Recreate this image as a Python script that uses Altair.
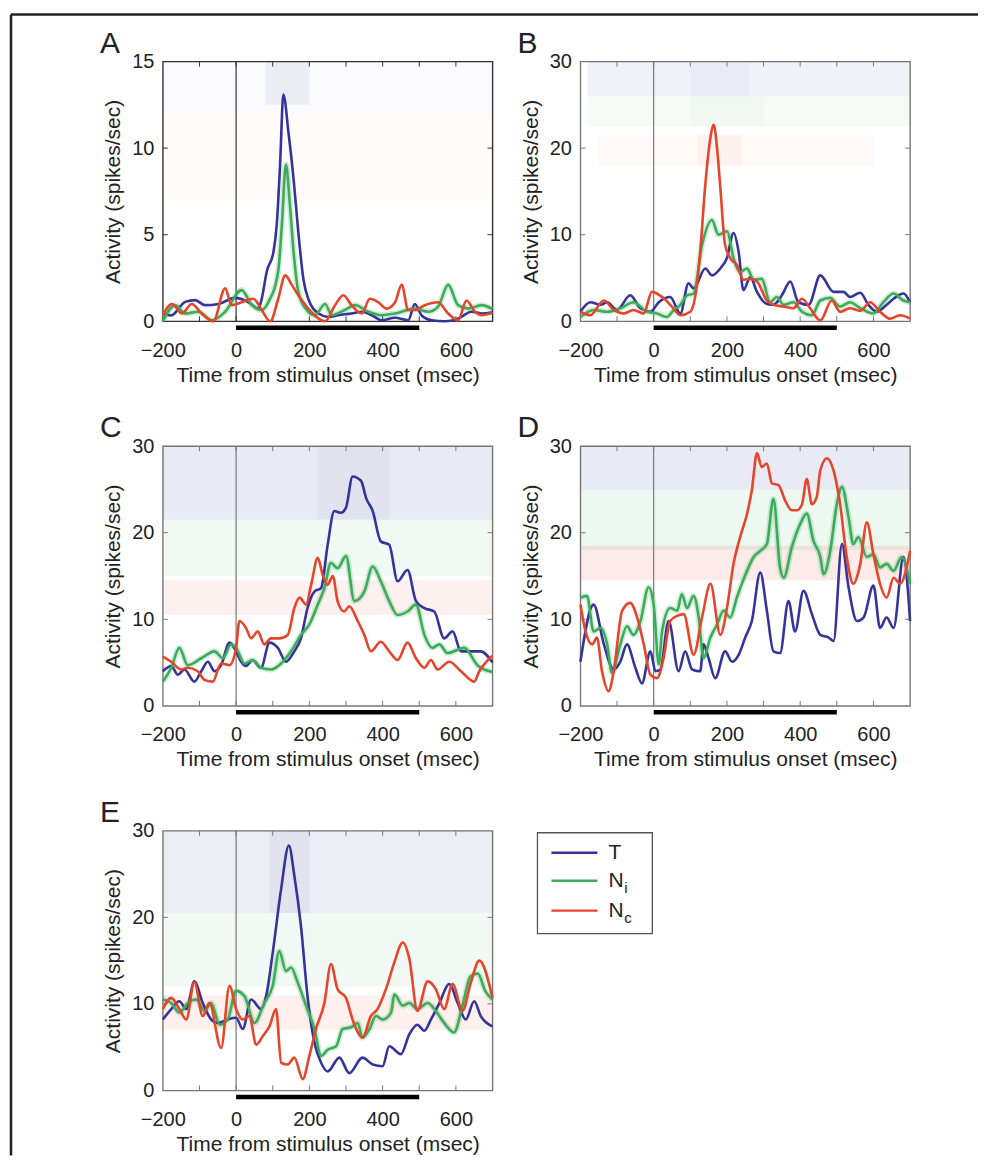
import altair as alt
import pandas as pd

FONT = "Liberation Sans"
INK = "#222222"
SERIES = ["T", "Ni", "Nc"]
SERIES_COLORS = ["#34349a", "#3cac5a", "#e6452a"]

X_LABELS = [-200, 0, 200, 400, 600]
X_TICKS = [-100, 0, 100, 200, 300, 400, 500, 600]
STIMULUS = [0, 500]
T_MIN, T_MAX = -200, 700
W, H = 330, 260

# ---- panel A (y 0-15) ----
a_T_t = [-200, -178, -139, -112, -85, -48, -3, 34, 61, 70, 84, 102, 111, 120, 129, 143, 157, 170, 184, 197,
         225, 252, 279, 315, 343, 370, 397, 434, 470, 488, 506, 534, 570, 606, 643, 670, 700]
a_T_v = [0.45, 0.33, 1.12, 1.22, 0.93, 1.0, 1.35, 1.1, 0.73, 1.3, 2.9, 4.0, 5.6, 9.0, 13.1, 10.9, 8.2, 5.1, 2.4, 1.3,
         0.45, 0.25, 0.35, 0.45, 0.55, 0.35, 0.06, 0.2, 0.06, 1.0, 0.35, 0.06, 0.0, 0.15, 0.55, 0.45, 0.5]
a_Ni_t = [-200, -166, -139, -103, -66, -30, 15, 43, 70, 88, 115, 125, 136, 147, 157, 170, 197, 215, 243, 261,
          297, 325, 361, 397, 434, 488, 525, 551, 579, 606, 634, 670, 700]
a_Ni_v = [0.0, 0.93, 0.45, 0.55, 0.06, 0.55, 1.8, 0.93, 0.65, 1.1, 2.9, 5.6, 9.05, 6.7, 4.0, 1.7, 0.55, 0.35, 1.0, 0.35,
          0.65, 0.93, 0.55, 0.35, 0.45, 0.73, 0.55, 0.83, 2.1, 0.93, 0.73, 0.93, 0.7]
a_Nc_t = [-200, -175, -148, -121, -94, -62, -30, -12, 15, 47, 70, 93, 115, 134, 152, 170, 197, 243, 270, 293,
          315, 343, 365, 388, 411, 434, 452, 470, 488, 515, 551, 579, 606, 629, 652, 670, 700]
a_Nc_v = [0.35, 1.0, 0.45, 1.0, 0.45, 0.0, 1.9, 0.93, 1.1, 1.3, 0.65, 0.0, 1.3, 2.65, 2.1, 1.5, 0.73, 0.0, 0.93, 1.5,
          0.93, 0.45, 1.3, 1.1, 0.73, 1.1, 2.1, 0.65, 0.65, 0.93, 1.1, 0.45, 0.06, 1.2, 0.55, 0.35, 0.5]
# raster bands: series, t from, t to, rate from, rate to, density
a_bands = [("T", 80, 200, 12.5, 15, 0.25), ("T", -200, 700, 12, 15, 0.06), ("Nc", -200, 700, 7, 12, 0.06)]

# ---- panel B ----
b_T_t = [-200, -173, -145, -127, -100, -64, -36, -9, 14, 45, 73, 95, 109, 141, 159, 182, 200, 218, 232, 245,
         264, 282, 309, 327, 350, 373, 395, 423, 455, 491, 518, 536, 564, 586, 609, 636, 655, 682, 700]
b_T_v = [1.1, 2.2, 1.9, 2.2, 1.3, 3.0, 1.5, 1.1, 2.2, 2.8, 0.9, 4.4, 3.8, 6.1, 5.3, 6.1, 7.3, 10.2, 8.0, 3.6,
         5.1, 3.4, 2.0, 1.9, 3.0, 4.6, 2.2, 1.9, 5.3, 3.4, 3.4, 2.8, 3.3, 1.9, 1.1, 1.9, 2.6, 3.2, 2.2]
b_Ni_t = [-200, -164, -127, -91, -55, -18, 9, 36, 55, 73, 91, 109, 132, 159, 177, 200, 218, 236, 255, 273,
          295, 318, 336, 355, 382, 405, 432, 455, 482, 509, 536, 564, 600, 627, 655, 682, 700]
b_Ni_v = [0.5, 1.3, 1.1, 1.5, 2.2, 1.1, 0.9, 0.5, 1.3, 1.9, 3.0, 3.2, 8.8, 11.7, 10.0, 10.4, 7.3, 5.7, 6.1, 4.8,
          4.9, 2.2, 2.8, 1.9, 2.2, 1.1, 0.7, 2.4, 2.7, 1.7, 2.2, 1.5, 0.9, 2.2, 3.2, 2.4, 2.2]
b_Nc_t = [-200, -173, -136, -109, -82, -55, -27, -5, 23, 50, 73, 100, 118, 127, 141, 155, 164, 173, 182, 195,
          209, 227, 245, 264, 282, 309, 327, 355, 382, 405, 427, 455, 486, 509, 536, 564, 591, 618, 645, 673, 700]
b_Nc_v = [1.1, 0.7, 2.4, 1.3, 0.9, 1.3, 0.9, 3.4, 2.8, 1.7, 0.7, 1.1, 4.2, 8.0, 15.8, 21.2, 22.7, 20.0, 15.4, 8.8,
          7.3, 6.5, 4.8, 4.9, 4.6, 2.4, 1.9, 1.7, 1.5, 2.6, 1.5, 0.1, 2.4, 1.1, 1.5, 1.2, 2.2, 1.1, 0.3, 0.7, 0.3]
b_bands = [("T", -180, 700, 26, 30, 0.22), ("T", 100, 260, 26, 30, 0.1), ("Ni", -180, 700, 22.5, 26, 0.15),
           ("Ni", 100, 300, 22.5, 26, 0.08), ("Nc", -150, 600, 18, 21.5, 0.12), ("Nc", 120, 240, 18, 21.5, 0.1)]

# ---- panel C ----
c_T_t = [-200, -177, -159, -141, -114, -95, -77, -59, -41, -18, 0, 14, 27, 45, 68, 91, 114, 136, 159, 177,
         195, 214, 232, 250, 268, 286, 300, 318, 341, 355, 373, 395, 418, 441, 468, 491, 514, 541, 568, 591,
         614, 668, 700]
c_T_v = [4.0, 4.6, 3.6, 4.2, 2.8, 4.0, 5.1, 4.0, 4.7, 7.3, 6.3, 5.1, 4.6, 5.3, 4.4, 7.3, 6.7, 5.1, 6.3, 7.8,
         11.3, 13.2, 13.6, 18.6, 22.5, 22.3, 22.9, 26.5, 26.0, 24.0, 22.5, 19.0, 18.6, 14.4, 15.7, 12.1, 11.3, 10.9, 7.8, 8.6,
         6.3, 6.3, 5.0]
c_Ni_t = [-200, -177, -155, -132, -95, -59, -36, -14, 0, 23, 45, 68, 95, 123, 150, 177, 200, 223, 241, 259,
          277, 300, 323, 350, 373, 395, 418, 441, 468, 491, 514, 536, 555, 577, 623, 659, 700]
c_Ni_v = [2.8, 4.4, 6.7, 4.7, 5.5, 6.3, 5.5, 7.1, 6.7, 4.9, 5.3, 4.4, 4.2, 4.9, 6.3, 8.2, 9.4, 11.7, 13.6, 16.5,
          15.9, 17.3, 12.1, 13.2, 16.1, 14.4, 12.1, 10.5, 10.9, 11.7, 8.2, 6.7, 7.1, 6.1, 6.7, 4.7, 3.9]
c_Nc_t = [-200, -177, -150, -132, -105, -86, -64, -41, -18, 0, 9, 27, 41, 59, 77, 95, 118, 141, 159, 173,
          191, 205, 223, 236, 250, 264, 277, 295, 309, 332, 350, 368, 395, 418, 441, 468, 491, 514, 532, 550,
          582, 614, 650, 664, 700]
c_Nc_v = [5.7, 5.1, 4.2, 4.4, 4.0, 3.0, 2.8, 4.9, 4.7, 6.7, 9.8, 9.0, 7.8, 8.6, 7.1, 7.8, 7.8, 8.2, 11.3, 12.5,
          11.7, 14.0, 17.1, 15.2, 14.0, 15.0, 12.1, 10.9, 11.5, 9.8, 8.2, 6.3, 7.4, 6.3, 5.3, 7.3, 5.5, 4.4, 5.3, 4.2,
          5.1, 4.0, 2.8, 4.0, 5.8]
c_bands = [("T", -200, 700, 21.5, 30, 0.35), ("T", 220, 420, 21.5, 30, 0.12), ("Ni", -200, 700, 15, 21.5, 0.25),
           ("Nc", -200, 700, 10.5, 14.5, 0.25)]

# ---- panel D ----
d_T_t = [-200, -164, -136, -109, -91, -73, -50, -32, -9, 5, 18, 41, 68, 86, 105, 127, 136, 150, 168, 195,
         214, 232, 250, 268, 291, 309, 327, 345, 368, 386, 409, 432, 455, 477, 491, 514, 532, 555, 573, 600,
         618, 636, 655, 682, 700]
d_T_v = [5.1, 11.7, 7.1, 4.2, 5.1, 7.1, 4.4, 2.6, 6.3, 4.0, 4.2, 9.8, 4.0, 6.3, 4.2, 4.0, 7.1, 5.5, 3.2, 6.3,
         5.1, 5.9, 7.9, 9.8, 15.4, 11.0, 6.3, 6.1, 12.1, 8.6, 13.3, 10.6, 8.2, 7.9, 7.5, 18.7, 13.7, 9.8, 10.2, 13.9,
         9.0, 10.2, 9.0, 17.2, 9.8]
d_Ni_t = [-200, -182, -164, -145, -127, -114, -91, -73, -55, -36, -14, 0, 14, 23, 45, 64, 77, 91, 109, 123,
          136, 155, 173, 191, 209, 227, 255, 273, 291, 309, 327, 345, 355, 377, 400, 418, 436, 455, 464, 482,
          500, 514, 532, 545, 559, 582, 600, 618, 636, 655, 677, 700]
d_Ni_v = [12.5, 12.7, 8.6, 9.0, 7.1, 3.8, 7.1, 9.2, 8.2, 9.8, 13.7, 11.7, 4.8, 8.6, 11.3, 11.0, 12.9, 11.3, 12.7, 10.2,
          5.5, 7.9, 9.4, 11.0, 10.2, 12.5, 15.6, 17.2, 17.9, 18.7, 23.9, 16.0, 14.8, 18.3, 21.0, 22.2, 19.1, 17.2, 15.2, 17.9,
          23.3, 25.3, 21.8, 18.7, 19.5, 17.2, 17.5, 16.0, 16.4, 15.6, 17.2, 14.1]
d_Nc_t = [-200, -186, -168, -155, -141, -123, -109, -86, -64, -45, -27, -9, 9, 27, 45, 64, 82, 109, 132, 155,
          182, 200, 218, 236, 255, 268, 282, 295, 309, 323, 341, 359, 377, 391, 405, 418, 432, 445, 455, 473,
          491, 509, 527, 545, 564, 582, 600, 618, 636, 655, 673, 700]
d_Nc_v = [11.7, 8.6, 7.1, 7.9, 4.0, 1.7, 4.0, 11.0, 11.9, 10.2, 7.1, 3.6, 3.2, 5.5, 9.8, 10.4, 10.6, 5.9, 10.2, 14.1,
          8.2, 11.3, 16.4, 19.5, 22.2, 24.9, 29.2, 27.6, 28.0, 25.7, 25.5, 23.7, 22.6, 22.6, 23.3, 26.2, 23.3, 24.1, 27.2, 28.6,
          27.2, 23.3, 17.2, 14.1, 16.4, 21.2, 17.5, 14.1, 12.5, 14.8, 14.1, 17.9]
d_bands = [("T", -200, 700, 25, 30, 0.35), ("Ni", -200, 700, 18, 25, 0.3), ("Nc", -200, 700, 14.5, 18.5, 0.35)]

# ---- panel E ----
e_T_t = [-200, -177, -155, -136, -114, -91, -68, -50, -23, 0, 18, 41, 68, 82, 100, 123, 144, 159, 177, 195,
         214, 232, 250, 282, 309, 345, 373, 400, 418, 450, 473, 495, 514, 532, 555, 582, 605, 627, 650, 668, 700]
e_T_v = [8.2, 9.4, 10.3, 9.4, 12.6, 10.1, 8.2, 7.8, 8.2, 8.4, 7.1, 10.5, 9.4, 10.9, 15.9, 23.3, 28.3, 24.8, 19.0, 10.9,
         5.5, 3.2, 2.2, 3.8, 2.0, 3.8, 3.0, 2.8, 5.1, 4.2, 6.5, 7.6, 6.9, 8.2, 10.1, 12.3, 10.1, 8.2, 10.3, 8.6, 7.4]
e_Ni_t = [-200, -177, -155, -132, -109, -86, -68, -45, -23, 0, 23, 50, 77, 100, 118, 136, 150, 168, 191, 214,
          232, 250, 273, 291, 314, 332, 345, 364, 382, 400, 423, 432, 455, 473, 495, 523, 545, 568, 595, 618,
          640, 660, 680, 700]
e_Ni_v = [10.5, 10.1, 9.0, 10.1, 10.5, 9.2, 10.1, 7.6, 8.2, 11.5, 10.9, 7.8, 10.1, 12.1, 16.1, 13.8, 14.2, 12.5, 9.8, 7.1,
          4.0, 4.7, 5.1, 7.1, 7.3, 7.8, 6.1, 7.1, 8.6, 8.2, 9.0, 11.1, 9.8, 10.1, 9.4, 10.1, 9.2, 7.8, 6.7, 9.8,
          13.2, 13.5, 11.5, 10.5]
e_Nc_t = [-200, -177, -155, -136, -114, -91, -73, -41, -18, 0, 18, 36, 55, 73, 91, 109, 123, 141, 159, 182,
          200, 218, 241, 259, 277, 300, 318, 345, 368, 386, 409, 432, 455, 473, 495, 523, 545, 568, 591, 618,
          641, 664, 700]
e_Nc_v = [9.4, 10.7, 9.4, 8.2, 12.5, 8.6, 10.1, 4.9, 12.1, 9.4, 8.2, 8.6, 5.3, 6.3, 7.4, 9.4, 3.2, 3.0, 3.8, 1.3,
          4.0, 7.1, 10.1, 14.6, 11.7, 10.7, 8.2, 6.1, 8.6, 9.4, 11.7, 14.8, 17.1, 15.2, 9.2, 12.6, 11.7, 9.4, 12.3, 9.2,
          12.5, 15.0, 10.7]
e_bands = [("T", -200, 700, 20.5, 30, 0.3), ("T", 90, 200, 20.5, 30, 0.18),
           ("Ni", -200, 700, 12, 20.5, 0.22), ("Nc", -200, 700, 7, 11, 0.28)]

legend_series = ["T", "Ni", "Nc"]
legend_main = ["T", "N", "N"]
legend_sub = ["", "i", "c"]

color_scale = alt.Scale(domain=SERIES, range=SERIES_COLORS)
x_scale = alt.Scale(domain=[T_MIN, T_MAX], nice=False, zero=False)
x_axis = alt.Axis(values=X_LABELS, title="Time from stimulus onset (msec)")
one = pd.DataFrame({"k": [0]})


def make_panel(letter, ymax, yvals, parts, bands, edge, extras=()):
    y_scale = alt.Scale(domain=[0, ymax], nice=False)
    y_axis = alt.Axis(values=yvals, title="Activity (spikes/sec)")
    py = ymax / H                 # data units per pixel (y)
    px = (T_MAX - T_MIN) / W      # data units per pixel (x)

    def X(f):
        return alt.X(f"{f}:Q", scale=x_scale, axis=x_axis)

    def Y(f):
        return alt.Y(f"{f}:Q", scale=y_scale, axis=y_axis)

    rows = []
    for name, ts, vs in parts:
        for t, v in zip(ts, vs, strict=True):
            rows.append({"series": name, "t": t, "v": v})
    line_df = pd.DataFrame(rows)
    band_df = pd.DataFrame(bands, columns=["series", "t0", "t1", "lo", "hi", "density"])

    color = alt.Color("series:N", scale=color_scale, legend=None)

    raster = alt.Chart(band_df).mark_rect().encode(
        x=X("t0"), x2="t1", y=Y("lo"), y2="hi", color=color,
        opacity=alt.Opacity("density:Q", scale=alt.Scale(domain=[0, 1], range=[0, 0.3]), legend=None),
    )

    zero_line = alt.Chart(pd.DataFrame({"t": [0], "lo": [0], "hi": [ymax]})).mark_rule(
        color=edge, strokeWidth=1.2
    ).encode(x=X("t"), y=Y("lo"), y2="hi")

    tick_rows = []
    for t in X_TICKS:
        tick_rows.append((t, t, 0, 5 * py))
        tick_rows.append((t, t, ymax - 5 * py, ymax))
    for y in yvals[1:-1]:
        tick_rows.append((T_MIN, T_MIN + 5 * px, y, y))
        tick_rows.append((T_MAX - 5 * px, T_MAX, y, y))
    ticks = alt.Chart(pd.DataFrame(tick_rows, columns=["t0", "t1", "lo", "hi"])).mark_rule(
        color=edge, strokeWidth=1
    ).encode(x=X("t0"), x2="t1", y=Y("lo"), y2="hi")

    stim = alt.Chart(pd.DataFrame({"t0": [STIMULUS[0]], "t1": [STIMULUS[1]], "y": [-6.5 * py]})).mark_rule(
        color="black", strokeWidth=4.5
    ).encode(x=X("t0"), x2="t1", y=Y("y"))

    halo = alt.Chart(line_df).transform_filter(alt.datum.series == "Ni").mark_line(
        strokeWidth=6, opacity=0.22, interpolate="monotone"
    ).encode(x=X("t"), y=Y("v"), color=color)

    lines = alt.Chart(line_df).mark_line(strokeWidth=2.6, interpolate="monotone").encode(
        x=X("t"), y=Y("v"), color=color
    )

    label = alt.Chart(pd.DataFrame({"letter": [letter]})).mark_text(
        align="left", baseline="alphabetic", fontSize=30, font=FONT, color=INK
    ).encode(x=alt.value(-63), y=alt.value(-9), text="letter:N")

    return alt.layer(raster, zero_line, ticks, stim, halo, lines, label, *extras).properties(
        width=W, height=H,
        view=alt.ViewBackground(stroke=edge, strokeWidth=1.4),
    )


# figure frame (top and left edges of the journal box)
frame = [
    alt.Chart(one).mark_rule(color=INK, strokeWidth=2.5).encode(
        x=alt.value(-152), x2=alt.value(816), y=alt.value(-47)),
    alt.Chart(one).mark_rule(color=INK, strokeWidth=2.5).encode(
        x=alt.value(-152), y=alt.value(-47), y2=alt.value(1095)),
]

# key drawn next to panel E
legend_rows_y = [22, 50, 80]
key = [alt.Chart(one).mark_rect(fill="white", stroke="#555555", strokeWidth=1.3).encode(
    x=alt.value(375), x2=alt.value(490), y=alt.value(2), y2=alt.value(103))]
for s, main, sub, yy in zip(legend_series, legend_main, legend_sub, legend_rows_y):
    row = pd.DataFrame({"series": [s], "main": [main], "sub": [sub]})
    key.append(alt.Chart(row).mark_rule(strokeWidth=2.4).encode(
        x=alt.value(389), x2=alt.value(435), y=alt.value(yy),
        color=alt.Color("series:N", scale=color_scale, legend=None)))
    key.append(alt.Chart(row).mark_text(align="left", baseline="middle", fontSize=21, font=FONT, color=INK).encode(
        x=alt.value(446), y=alt.value(yy), text="main:N"))
    if sub:
        key.append(alt.Chart(row).mark_text(align="left", baseline="middle", fontSize=15, font=FONT,
                                            color=INK, dx=16, dy=7).encode(
            x=alt.value(446), y=alt.value(yy), text="sub:N"))

panel_a = make_panel("A", 15, [0, 5, 10, 15],
                     [("T", a_T_t, a_T_v), ("Ni", a_Ni_t, a_Ni_v), ("Nc", a_Nc_t, a_Nc_v)],
                     a_bands, "#333333", frame)
panel_b = make_panel("B", 30, [0, 10, 20, 30],
                     [("T", b_T_t, b_T_v), ("Ni", b_Ni_t, b_Ni_v), ("Nc", b_Nc_t, b_Nc_v)],
                     b_bands, "#777777")
panel_c = make_panel("C", 30, [0, 10, 20, 30],
                     [("T", c_T_t, c_T_v), ("Ni", c_Ni_t, c_Ni_v), ("Nc", c_Nc_t, c_Nc_v)],
                     c_bands, "#777777")
panel_d = make_panel("D", 30, [0, 10, 20, 30],
                     [("T", d_T_t, d_T_v), ("Ni", d_Ni_t, d_Ni_v), ("Nc", d_Nc_t, d_Nc_v)],
                     d_bands, "#777777")
panel_e = make_panel("E", 30, [0, 10, 20, 30],
                     [("T", e_T_t, e_T_v), ("Ni", e_Ni_t, e_Ni_v), ("Nc", e_Nc_t, e_Nc_v)],
                     e_bands, "#777777", key)

chart = alt.concat(
    panel_a, panel_b, panel_c, panel_d, panel_e,
    columns=2, spacing={"row": 125, "column": 88}, bounds="flush",
).properties(
    padding={"left": 1, "top": 4, "right": 0, "bottom": 0},
).configure_axis(
    labelFont=FONT, titleFont=FONT, labelFontSize=20, titleFontSize=21,
    labelColor=INK, titleColor=INK, titleFontWeight="normal",
    grid=False, ticks=False, domain=False, labelFlush=False,
).configure_axisX(
    labelPadding=19, titlePadding=4,
).configure_axisY(
    labelPadding=9, titlePadding=8,
)

chart.save("out.html", embed_options={"renderer": "svg", "actions": False})
